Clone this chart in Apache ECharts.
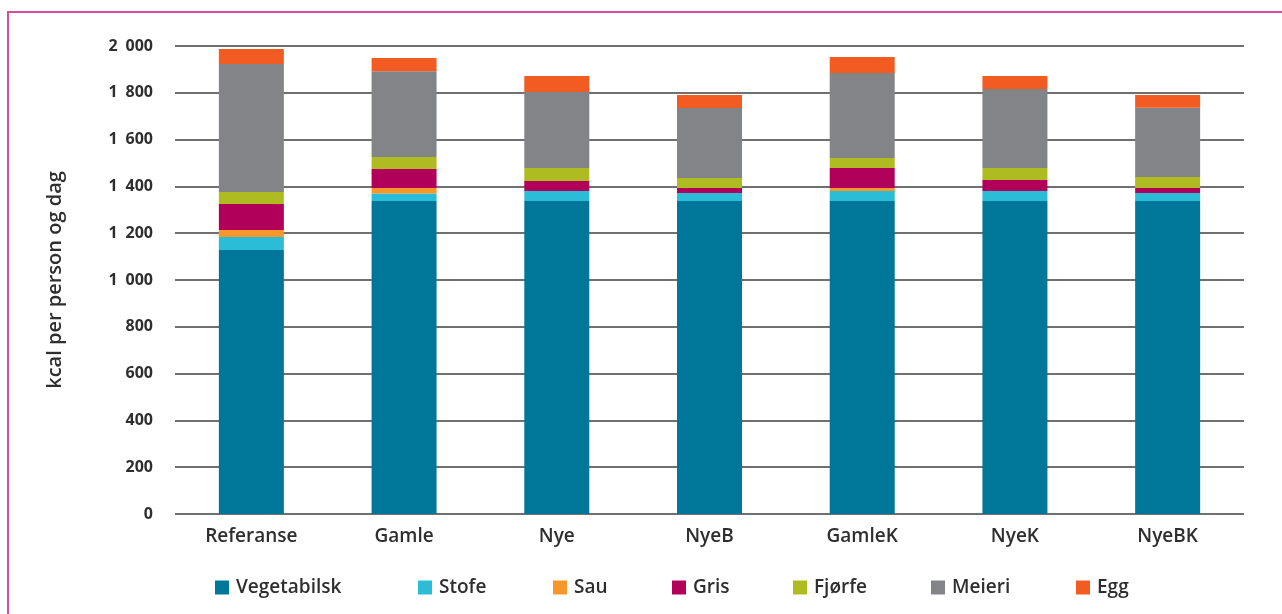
<!DOCTYPE html>
<html>
<head>
<meta charset="utf-8">
<script src="https://cdn.jsdelivr.net/npm/echarts@6/dist/echarts.min.js"></script>
<style>
  html, body { margin: 0; padding: 0; background: #fff; }
  #chart { width: 1282px; height: 614px; }
</style>
</head>
<body>
<div id="chart"></div>
<script>
// Daily energy supply per person, split by food source (kcal)
const categories = ['Referanse', 'Gamle', 'Nye', 'NyeB', 'GamleK', 'NyeK', 'NyeBK'];

const vegetabilsk = [1128, 1338, 1338, 1338, 1338, 1338, 1338];
const stofe       = [56, 32, 42, 34, 42, 42, 34];
const sau         = [30, 23, 0, 0, 13, 0, 0];
const gris        = [111, 81, 43, 21, 86, 47, 21];
const fjorfe      = [51, 52, 56, 43, 42, 52, 47];
const meieri      = [547, 366, 324, 299, 364, 337, 296];
const egg         = [64, 57, 69, 56, 68, 56, 55];

const yTicks = { min: 0, max: 2000, step: 200 };

const seriesDefs = [
  { name: 'Vegetabilsk', data: vegetabilsk, color: '#007698' },
  { name: 'Stofe',       data: stofe,       color: '#2bbcd8' },
  { name: 'Sau',         data: sau,         color: '#f7962a' },
  { name: 'Gris',        data: gris,        color: '#b1005a' },
  { name: 'Fjørfe',      data: fjorfe,      color: '#aebc21' },
  { name: 'Meieri',      data: meieri,      color: '#838487' },
  { name: 'Egg',         data: egg,         color: '#f25c22' }
];

// left edge of each legend entry along the bottom row
const legendLeft = [215, 418, 553, 672, 793, 931, 1076];

const font = '"Open Sans", "DejaVu Sans", sans-serif';
const textColor = '#2e2e2e';

const chart = echarts.init(document.getElementById('chart'), null, { renderer: 'canvas' });

chart.setOption({
  animation: false,
  backgroundColor: '#ffffff',
  graphic: [{
    type: 'rect',
    silent: true,
    shape: { x: 8, y: 12, width: 1400, height: 800 },
    style: { fill: 'none', stroke: '#d54e9f', lineWidth: 2 }
  }],
  grid: { left: 175, right: 38, top: 46, bottom: 100 },
  legend: seriesDefs.map((s, i) => ({
    left: legendLeft[i],
    top: 578,
    padding: 0,
    itemWidth: 14,
    itemHeight: 14,
    icon: 'rect',
    selectedMode: false,
    textStyle: { fontFamily: font, fontSize: 19, fontWeight: 600, color: textColor, padding: [0, 0, 0, 2] },
    data: [s.name]
  })),
  xAxis: {
    type: 'category',
    data: categories,
    axisLine: { show: false },
    axisTick: { show: false },
    axisLabel: { margin: 13, fontFamily: font, fontSize: 19, fontWeight: 600, color: textColor }
  },
  yAxis: {
    type: 'value',
    min: yTicks.min,
    max: yTicks.max,
    interval: yTicks.step,
    name: 'kcal per person og dag',
    nameLocation: 'middle',
    nameRotate: 90,
    nameGap: 110,
    nameTextStyle: { fontFamily: font, fontSize: 20, fontWeight: 600, color: textColor },
    axisLine: { show: false },
    axisTick: { show: false },
    axisLabel: {
      margin: 22,
      fontFamily: font,
      fontSize: 16,
      fontWeight: 700,
      color: textColor,
      formatter: v => String(v).replace(/\B(?=(\d{3})+(?!\d))/g, '\u2002')
    },
    splitLine: { show: true, lineStyle: { color: '#707070', width: 2 } }
  },
  series: seriesDefs.map(s => ({
    name: s.name,
    type: 'bar',
    stack: 'total',
    barWidth: 65,
    data: s.data,
    itemStyle: { color: s.color },
    emphasis: { disabled: true }
  }))
});
</script>
</body>
</html>
